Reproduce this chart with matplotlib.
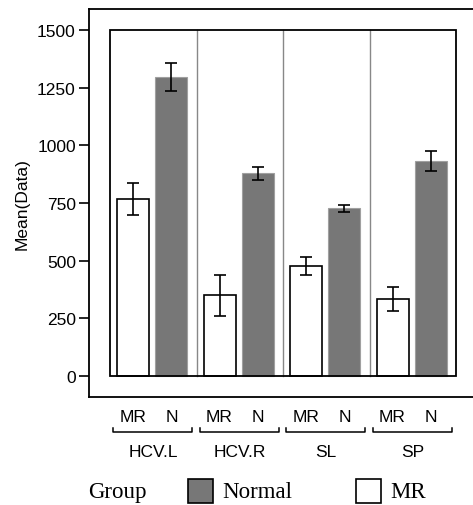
"""Grouped bar chart: Mean(Data) by region and group, with error bars."""

import matplotlib

matplotlib.use("Agg")
import matplotlib.pyplot as plt
from matplotlib.patches import Rectangle

groups = ["HCV.L", "HCV.R", "SL", "SP"]
sub_labels = ["MR", "N"]
mr_mean = [767, 350, 478, 334]
mr_err = [70, 88, 39, 53]
n_mean = [1295, 878, 727, 933]
n_err = [60, 28, 15, 43]
y_ticks = [0, 250, 500, 750, 1000, 1250, 1500]
legend_labels = ["Normal", "MR"]

W, H = 473, 506
SANS = "Liberation Sans"
SERIF = "Liberation Serif"
GRAY = "#777777"
FS = 12.5


def fx(px):
    return px / W


def fy(py):
    return 1 - py / H


def main() -> None:
    fig = plt.figure(figsize=(W / 100, H / 100), dpi=100)

    # outer frame: left 89, top 10, bottom 398, runs off the right edge
    left, top, bottom, right = 89, 10, 398, 476
    ax = fig.add_axes([fx(left), fy(bottom), fx(right - left), (bottom - top) / H])

    unit = (456 - 110) / 4.0
    ax.set_xlim((left - 110) / unit, (right - 110) / unit)
    y_per_px = 250 / 57.7
    ax.set_ylim(-(bottom - 377) * y_per_px, 1500 + (31 - top) * y_per_px)

    for side in ["left", "top", "bottom"]:
        ax.spines[side].set_linewidth(1.3)
    ax.spines["right"].set_visible(False)

    ax.set_yticks(y_ticks)
    ax.set_yticklabels([str(v) for v in y_ticks], family=SANS, fontsize=FS)
    ax.tick_params(axis="y", length=7, width=1.2, pad=2.5)
    ax.set_xticks([])
    ax.set_ylabel("Mean(Data)", family=SANS, fontsize=FS, labelpad=5)

    # inner frame and panel dividers
    ax.add_patch(Rectangle((0, 0), 4, 1500, fill=False, edgecolor="black", lw=1.3, zorder=4))
    for k in range(1, len(groups)):
        ax.plot([k, k], [0, 1500], color="#888888", lw=1.0, zorder=1)

    width = 0.37
    mr_x = [i + 0.266 for i in range(len(groups))]
    n_x = [i + 0.71 for i in range(len(groups))]
    err_kw = dict(ecolor="black", elinewidth=1.2, capsize=4, capthick=1.2)
    ax.bar(mr_x, mr_mean, width=width, color="white", edgecolor="black",
           lw=1.2, yerr=mr_err, error_kw=err_kw, zorder=2)
    ax.bar(n_x, n_mean, width=width, color=GRAY, edgecolor="#a0a0a0",
           lw=0.8, yerr=n_err, error_kw=err_kw, zorder=2)

    # category labels, brackets and group names below the axes
    trans = ax.get_xaxis_transform()
    y_sub = (bottom - 418) / (bottom - top)
    y_br = (bottom - 433) / (bottom - top)
    y_brt = (bottom - 429) / (bottom - top)
    y_grp = (bottom - 453) / (bottom - top)
    for i, g in enumerate(groups):
        ax.text(mr_x[i], y_sub, sub_labels[0], transform=trans, ha="center",
                va="center", family=SANS, fontsize=FS)
        ax.text(n_x[i], y_sub, sub_labels[1], transform=trans, ha="center",
                va="center", family=SANS, fontsize=FS)
        x0, x1 = i + 0.035, i + 0.95
        ax.plot([x0, x0, x1, x1], [y_brt, y_br, y_br, y_brt], transform=trans,
                color="black", lw=1.1, clip_on=False)
        ax.text(i + 0.5, y_grp, g, transform=trans, ha="center", va="center",
                family=SANS, fontsize=FS)

    # legend row
    fig.text(fx(88), fy(493), "Group", family=SERIF, fontsize=16.5,
             ha="left", va="center")
    patches = [(188, GRAY), (356, "white")]
    for (px, color), label in zip(patches, legend_labels):
        fig.patches.append(Rectangle((fx(px), fy(504)), fx(25), 24 / H,
                                     transform=fig.transFigure, facecolor=color,
                                     edgecolor="black", lw=1.2))
        fig.text(fx(px + 34), fy(493), label, family=SERIF, fontsize=16.5,
                 ha="left", va="center")

    fig.savefig("out.png", dpi=100)
    plt.close(fig)


if __name__ == "__main__":
    main()
